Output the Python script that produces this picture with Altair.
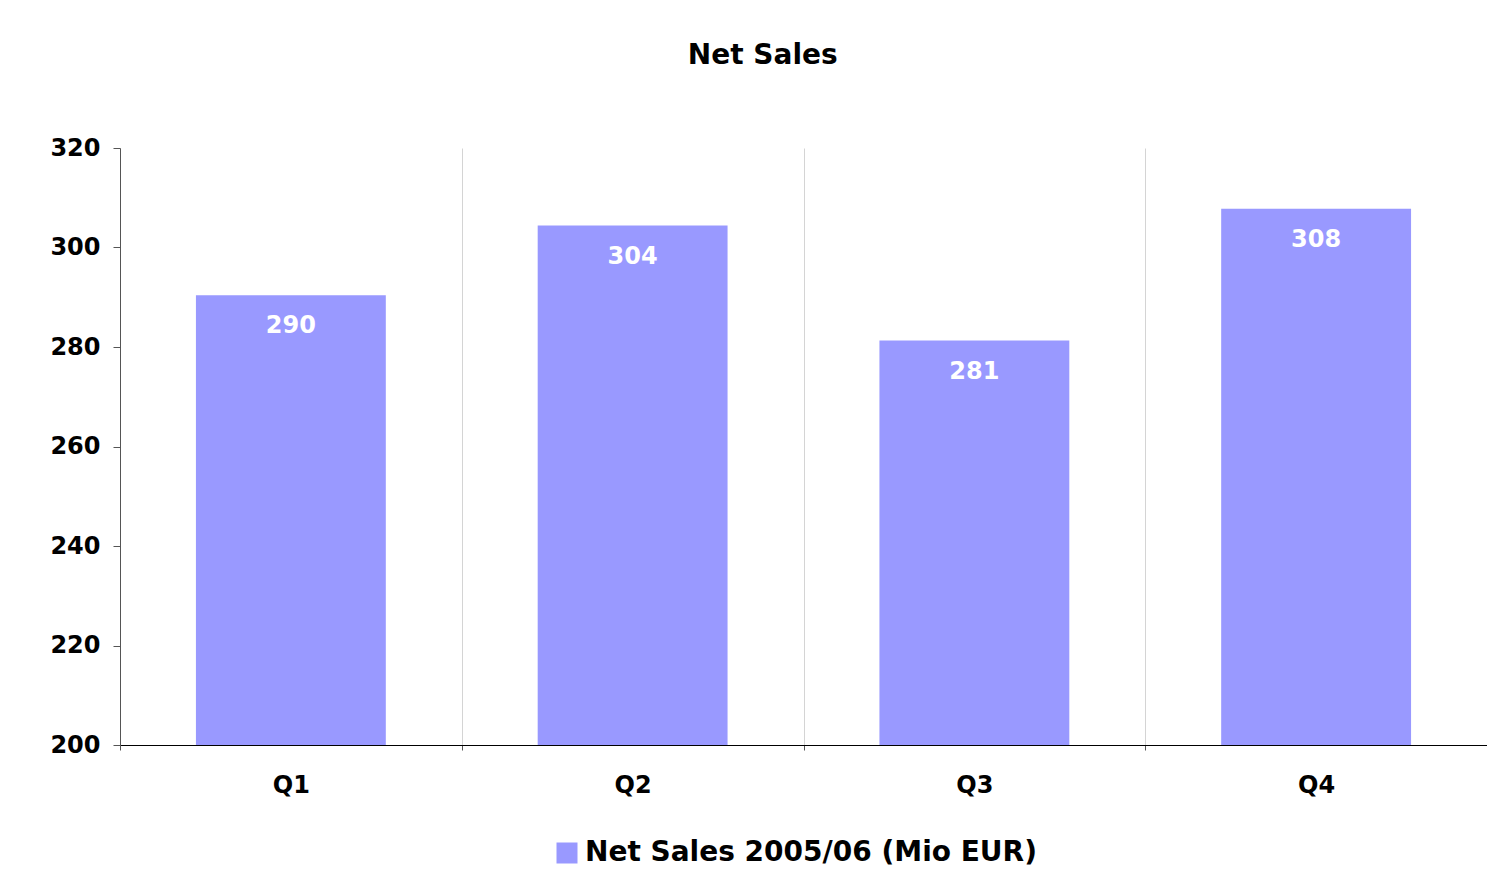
import altair as alt
import pandas as pd

quarters = ["Q1", "Q2", "Q3", "Q4"]
net_sales = [290.4, 304.4, 281.3, 307.8]
series_name = ["Net Sales 2005/06 (Mio EUR)"] * 4
y_ticks = [200, 220, 240, 260, 280, 300, 320]

df = pd.DataFrame({"quarter": quarters, "value": net_sales, "series": series_name})

FONT = "DejaVu Sans"

x_enc = alt.X(
    "quarter:N",
    sort=quarters,
    title=None,
    scale=alt.Scale(paddingInner=0, paddingOuter=0),
    axis=alt.Axis(
        tickBand="extent",
        grid=True,
        gridColor="#d4d4d4",
        gridWidth=1,
        domainColor="#000000",
        domainWidth=1,
        tickColor="#555555",
        tickSize=5,
        labelAngle=0,
        labelFont=FONT,
        labelFontSize=24,
        labelFontWeight="bold",
        labelColor="#000000",
        labelPadding=23,
    ),
)

y_enc = alt.Y(
    "value:Q",
    title=None,
    scale=alt.Scale(domain=[200, 320], nice=False, zero=False),
    axis=alt.Axis(
        values=y_ticks,
        grid=False,
        domainColor="#555555",
        tickColor="#555555",
        tickSize=7,
        labelFont=FONT,
        labelFontSize=24,
        labelFontWeight="bold",
        labelColor="#000000",
        labelPadding=13,
    ),
)

bars = alt.Chart(df).mark_bar(clip=True, width=alt.RelativeBandSize(0.5556)).encode(
    x=x_enc,
    y=y_enc,
    color=alt.Color(
        "series:N",
        scale=alt.Scale(range=["#9999FF"]),
        legend=alt.Legend(
            title=None,
            orient="none",
            legendX=433,
            legendY=691,
            symbolType="square",
            symbolSize=441,
            symbolStrokeWidth=0,
            labelFont=FONT,
            labelFontSize=28,
            labelFontWeight="bold",
            labelColor="#000000",
            labelLimit=1000,
        ),
    ),
)

labels = alt.Chart(df).mark_text(
    font=FONT, fontSize=24, fontWeight="bold", color="white",
    baseline="alphabetic", dy=38,
).encode(
    x=alt.X("quarter:N", sort=quarters),
    y=alt.Y("value:Q"),
    text=alt.Text("value:Q", format=".0f"),
)

chart = alt.layer(bars, labels).properties(
    width=1367,
    height=597,
    title=alt.TitleParams(
        "Net Sales",
        font=FONT,
        fontSize=28,
        fontWeight="bold",
        color="#000000",
        anchor="middle",
        frame="bounds",
        baseline="alphabetic",
        offset=44,
        dx=-6,
    ),
    autosize=alt.AutoSizeParams(type="none"),
    padding={"left": 112, "top": 140, "right": 0, "bottom": 122},
).configure(background="#ffffff", view=alt.ViewConfig(stroke=None))

chart.save("out.html", embed_options={"renderer": "svg", "actions": False})
